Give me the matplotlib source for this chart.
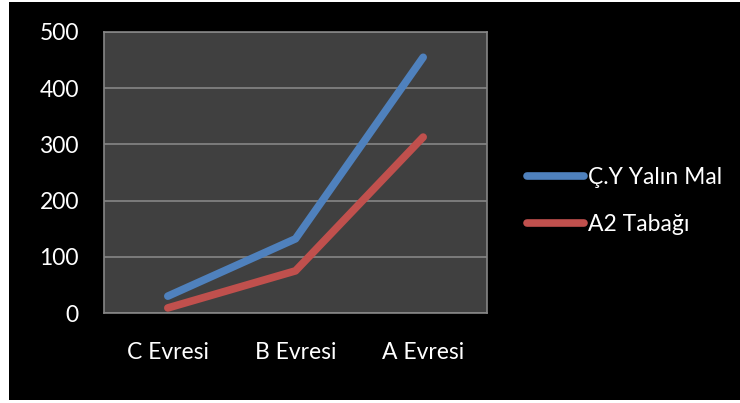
import matplotlib
matplotlib.use("Agg")
import matplotlib.pyplot as plt
from matplotlib.patches import Rectangle

categories = ["C Evresi", "B Evresi", "A Evresi"]
cy_yalin = [30, 132, 455]
a2_tabagi = [9, 75, 313]
series_names = ["Ç.Y Yalın Mal", "A2 Tabağı"]
yticks = [0, 100, 200, 300, 400, 500]

plt.rcParams['font.family'] = ['Lato', 'DejaVu Sans']

fig = plt.figure(figsize=(7.4, 4.03), dpi=100, facecolor="white")
# black chart background inside a thin white margin
fig.patches.append(Rectangle((9/740, 3/403), 1 - 9/740, 398/403,
                             transform=fig.transFigure, facecolor="black",
                             edgecolor="none", zorder=-10))

ax = fig.add_axes([104/740, 90/403, 383/740, 281/403])
ax.set_facecolor("#404040")

x = range(len(categories))
ax.plot(x, cy_yalin, color="#4F81BD", lw=5.5, solid_capstyle="round",
        label=series_names[0], zorder=3)
ax.plot(x, a2_tabagi, color="#C0504D", lw=5.5, solid_capstyle="round",
        label=series_names[1], zorder=3)

ax.set_xlim(-0.5, 2.5)
ax.set_ylim(0, 500)
ax.set_yticks(yticks)
ax.set_xticks(list(x))
ax.set_xticklabels(categories)
ax.grid(axis="y", color="#868686", lw=1.2)
ax.set_axisbelow(True)
for s in ax.spines.values():
    s.set_color("#868686")
    s.set_linewidth(1.2)
ax.tick_params(axis="both", length=0, colors="white", labelsize=16.5)
ax.tick_params(axis="y", pad=18)
ax.tick_params(axis="x", pad=21)

leg = fig.legend(loc="center left", bbox_to_anchor=(506/740, 1 - 201/403),
                 frameon=False, fontsize=16.5, handlelength=2.5,
                 handletextpad=0.2, labelspacing=1.15, labelcolor="white")
for h in leg.get_lines():
    h.set_solid_capstyle("round")

fig.savefig("out.png", dpi=100, facecolor=fig.get_facecolor())
